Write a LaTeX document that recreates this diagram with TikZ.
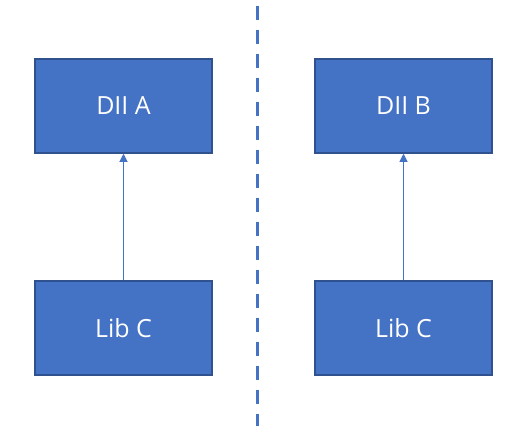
\documentclass[tikz,border=0pt]{standalone}
\usepackage{fontspec}
\setmainfont{Open Sans}
\usepackage{xcolor}
\definecolor{boxfill}{RGB}{68,114,196}
\definecolor{boxborder}{RGB}{47,82,143}
\usetikzlibrary{arrows.meta}
\tikzset{
    module/.style={draw=boxborder, fill=boxfill, rectangle, line width=1.5pt,
        minimum width=177pt, minimum height=94pt, text=white, font=\fontsize{25}{29}\selectfont},
    depends/.style={-{Triangle[width=8pt, length=8pt]}, boxfill, line width=1pt},
    separator/.style={boxfill, line width=3pt, dash pattern=on 14pt off 10pt}
}
\begin{document}
\begin{tikzpicture}[x=1pt, y=-1pt]
    \useasboundingbox (0,0) rectangle (532,431);

    \node[module] (dllA) at (123.5,106) {DII A};
    \node[module] (libCA) at (123.5,328) {Lib C};

    \node[module] (dllB) at (403.5,106) {DII B};
    \node[module] (libCB) at (403.5,328) {Lib C};

    \coordinate (sep-top) at (257.5,6);
    \coordinate (sep-bottom) at (257.5,426);

    \draw[depends] (libCA) -- (dllA);
    \draw[depends] (libCB) -- (dllB);

    \draw[separator] (sep-top) -- (sep-bottom);
\end{tikzpicture}
\end{document}
